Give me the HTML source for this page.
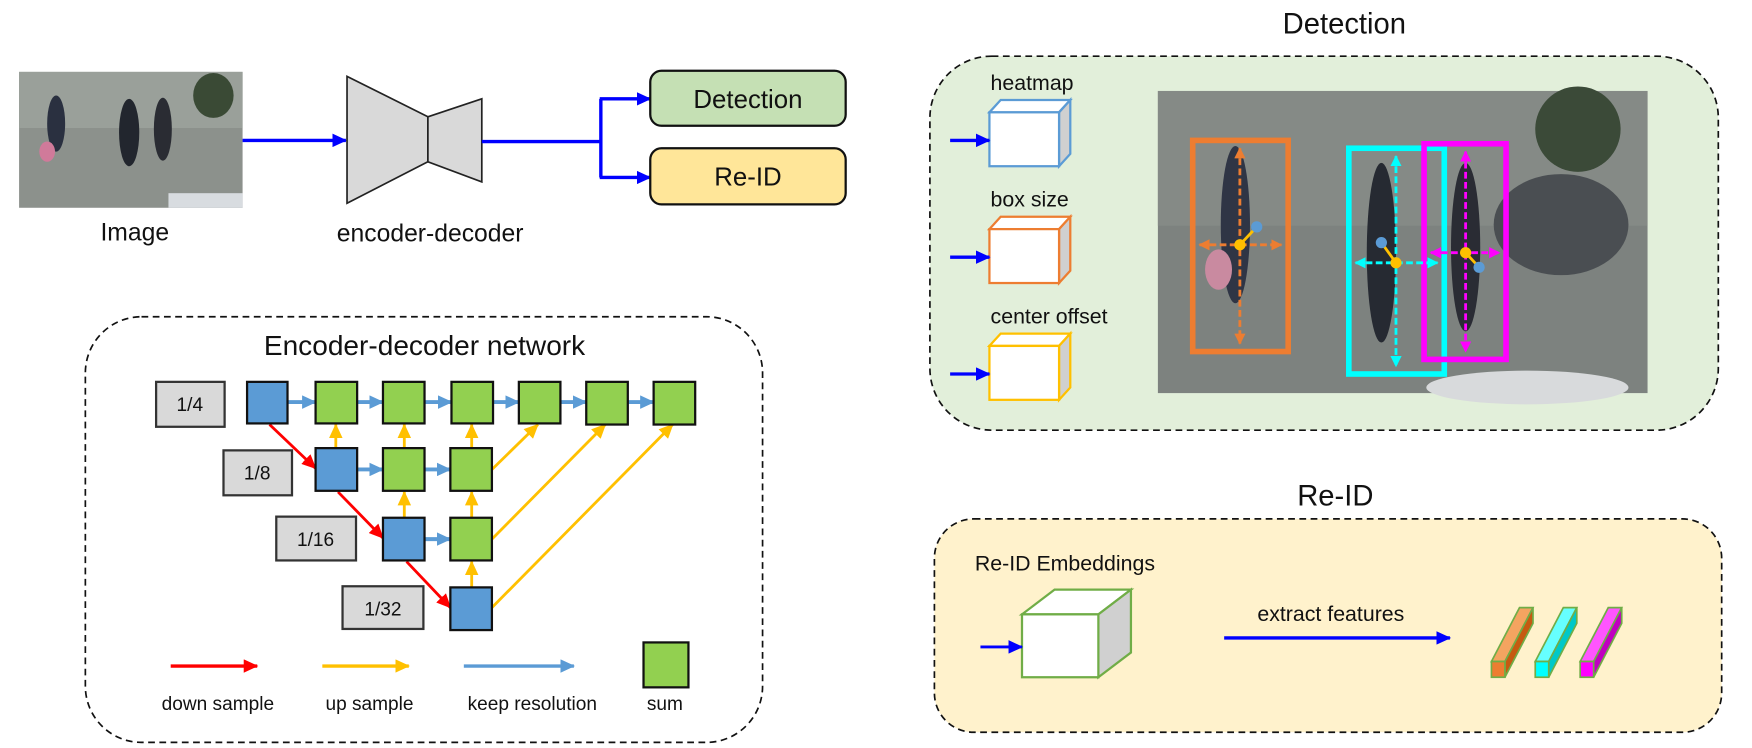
<!DOCTYPE html>
<html><head><meta charset="utf-8"><style>
html,body{margin:0;padding:0;background:#fff;width:1752px;height:748px;overflow:hidden}
svg{display:block}
text{font-family:"Liberation Sans",sans-serif;fill:#111}
</style></head><body>
<svg width="1752" height="748" viewBox="0 0 1560 666" preserveAspectRatio="none" xmlns="http://www.w3.org/2000/svg">
<defs>
<marker id="ab" markerWidth="13" markerHeight="12" refX="12" refY="6" orient="auto" markerUnits="userSpaceOnUse"><path d="M0,0 L13,6 L0,12z" fill="#0000ff"/></marker>
<marker id="ar" markerWidth="13" markerHeight="12" refX="12" refY="6" orient="auto" markerUnits="userSpaceOnUse"><path d="M0,0 L13,6 L0,12z" fill="#ff0000"/></marker>
<marker id="ay" markerWidth="13" markerHeight="12" refX="12" refY="6" orient="auto" markerUnits="userSpaceOnUse"><path d="M0,0 L13,6 L0,12z" fill="#ffc000"/></marker>
<marker id="al" markerWidth="13" markerHeight="12" refX="12" refY="6" orient="auto" markerUnits="userSpaceOnUse"><path d="M0,0 L13,6 L0,12z" fill="#5b9bd5"/></marker>
<marker id="mo" markerWidth="10" markerHeight="10" refX="9" refY="5" orient="auto-start-reverse" markerUnits="userSpaceOnUse"><path d="M0,0 L10,5 L0,10z" fill="#ed7d31"/></marker>
<marker id="mc" markerWidth="10" markerHeight="10" refX="9" refY="5" orient="auto-start-reverse" markerUnits="userSpaceOnUse"><path d="M0,0 L10,5 L0,10z" fill="#00ffff"/></marker>
<marker id="mm" markerWidth="10" markerHeight="10" refX="9" refY="5" orient="auto-start-reverse" markerUnits="userSpaceOnUse"><path d="M0,0 L10,5 L0,10z" fill="#ff00ff"/></marker>
</defs>

<rect x="17" y="64" width="199" height="121" fill="#8c918c"/>
<rect x="17" y="64" width="199" height="50" fill="#9aa09a"/>
<ellipse cx="50" cy="110" rx="8" ry="25" fill="#2a3040"/>
<ellipse cx="42" cy="135" rx="7" ry="9" fill="#d07a9a"/>
<ellipse cx="115" cy="118" rx="9" ry="30" fill="#22262e"/>
<ellipse cx="145" cy="115" rx="8" ry="28" fill="#2a2c33"/>
<ellipse cx="190" cy="85" rx="18" ry="20" fill="#3a4a35"/>
<rect x="150" y="172" width="66" height="13" fill="#d8dce0"/>
<text x="120" y="214" font-size="22" text-anchor="middle">Image</text>
<line x1="216" y1="125" x2="308" y2="125" stroke="#0000ff" stroke-width="3" marker-end="url(#ab)"/>
<polygon points="309,68 381,104 381,144 309,181" fill="#d9d9d9" stroke="#222" stroke-width="1.5"/>
<polygon points="381,104 429,88 429,162 381,144" fill="#d9d9d9" stroke="#222" stroke-width="1.5"/>
<text x="383" y="215" font-size="22" text-anchor="middle">encoder-decoder</text>
<polyline points="429,126 535,126" fill="none" stroke="#0000ff" stroke-width="3"/>
<polyline points="535,88 535,158" fill="none" stroke="#0000ff" stroke-width="3"/>
<line x1="534" y1="88" x2="579" y2="88" stroke="#0000ff" stroke-width="3" marker-end="url(#ab)"/>
<line x1="534" y1="158" x2="579" y2="158" stroke="#0000ff" stroke-width="3" marker-end="url(#ab)"/>
<rect x="579" y="63" width="174" height="49" rx="10" fill="#c5e0b4" stroke="#111" stroke-width="2"/>
<text x="666" y="96" font-size="23" text-anchor="middle">Detection</text>
<rect x="579" y="132" width="174" height="50" rx="10" fill="#ffe699" stroke="#111" stroke-width="2"/>
<text x="666" y="165" font-size="23" text-anchor="middle">Re-ID</text>

<rect x="76" y="282" width="603" height="379" rx="50" fill="none" stroke="#111" stroke-width="1.5" stroke-dasharray="6,4"/>
<text x="378" y="316" font-size="25" text-anchor="middle">Encoder-decoder network</text>
<g stroke="#333" stroke-width="2" fill="#d9d9d9">
<rect x="139" y="340" width="61" height="40"/><rect x="199" y="401" width="61" height="40"/>
<rect x="246" y="460" width="71" height="39"/><rect x="305" y="522" width="72" height="38"/>
</g>
<g font-size="17" text-anchor="middle">
<text x="169" y="366">1/4</text><text x="229" y="427">1/8</text><text x="281" y="486">1/16</text><text x="341" y="548">1/32</text>
</g>
<g stroke="#5b9bd5" stroke-width="3.5">
<line x1="256" y1="358" x2="281" y2="358" marker-end="url(#al)"/>
<line x1="318" y1="358" x2="341" y2="358" marker-end="url(#al)"/>
<line x1="378" y1="358" x2="402" y2="358" marker-end="url(#al)"/>
<line x1="439" y1="358" x2="462" y2="358" marker-end="url(#al)"/>
<line x1="499" y1="358" x2="522" y2="358" marker-end="url(#al)"/>
<line x1="559" y1="358" x2="582" y2="358" marker-end="url(#al)"/>
<line x1="318" y1="418" x2="341" y2="418" marker-end="url(#al)"/>
<line x1="378" y1="418" x2="401" y2="418" marker-end="url(#al)"/>
<line x1="378" y1="480" x2="401" y2="480" marker-end="url(#al)"/>
</g>
<g stroke="#ffc000" stroke-width="2.5">
<line x1="299" y1="399" x2="299" y2="378" marker-end="url(#ay)"/>
<line x1="360" y1="399" x2="360" y2="378" marker-end="url(#ay)"/>
<line x1="420" y1="399" x2="420" y2="378" marker-end="url(#ay)"/>
<line x1="360" y1="461" x2="360" y2="438" marker-end="url(#ay)"/>
<line x1="420" y1="461" x2="420" y2="438" marker-end="url(#ay)"/>
<line x1="420" y1="523" x2="420" y2="500" marker-end="url(#ay)"/>
<line x1="438" y1="418" x2="479" y2="378" marker-end="url(#ay)"/>
<line x1="438" y1="480" x2="539" y2="378" marker-end="url(#ay)"/>
<line x1="438" y1="541" x2="599" y2="378" marker-end="url(#ay)"/>
</g>
<g stroke="#ff0000" stroke-width="2.5">
<line x1="240" y1="378" x2="281" y2="417" marker-end="url(#ar)"/>
<line x1="301" y1="438" x2="341" y2="479" marker-end="url(#ar)"/>
<line x1="362" y1="500" x2="401" y2="541" marker-end="url(#ar)"/>
</g>
<g stroke="#111" stroke-width="2">
<rect x="220" y="340" width="36" height="37" fill="#5b9bd5"/>
<rect x="281" y="399" width="37" height="38" fill="#5b9bd5"/>
<rect x="341" y="461" width="37" height="38" fill="#5b9bd5"/>
<rect x="401" y="523" width="37" height="38" fill="#5b9bd5"/>
<g fill="#92d050">
<rect x="281" y="340" width="37" height="37"/><rect x="341" y="340" width="37" height="37"/>
<rect x="402" y="340" width="37" height="37"/><rect x="462" y="340" width="37" height="37"/>
<rect x="522" y="340" width="37" height="38"/><rect x="582" y="340" width="37" height="38"/>
<rect x="341" y="399" width="37" height="38"/><rect x="401" y="399" width="37" height="38"/>
<rect x="401" y="461" width="37" height="38"/>
<rect x="573" y="572" width="40" height="40"/>
</g></g>
<line x1="152" y1="593" x2="229" y2="593" stroke="#ff0000" stroke-width="3" marker-end="url(#ar)"/>
<line x1="287" y1="593" x2="364" y2="593" stroke="#ffc000" stroke-width="3" marker-end="url(#ay)"/>
<line x1="413" y1="593" x2="511" y2="593" stroke="#5b9bd5" stroke-width="3" marker-end="url(#al)"/>
<g font-size="17" text-anchor="middle">
<text x="194" y="632">down sample</text><text x="329" y="632">up sample</text>
<text x="474" y="632">keep resolution</text><text x="592" y="632">sum</text>
</g>

<text x="1197" y="30" font-size="26" text-anchor="middle">Detection</text>
<rect x="828" y="50" width="702" height="333" rx="55" fill="#e2efda" stroke="#111" stroke-width="1.5" stroke-dasharray="6,4"/>
<g font-size="19"><text x="882" y="80">heatmap</text><text x="882" y="184">box size</text><text x="882" y="288">center offset</text></g>
<g stroke-width="2">
<polygon points="881,100 891,89 953,89 943,100" fill="#fff" stroke="#5b9bd5"/><polygon points="943,100 953,89 953,137 943,148" fill="#d0d0d0" stroke="#5b9bd5"/><rect x="881" y="100" width="62" height="48" fill="#fff" stroke="#5b9bd5"/>
<polygon points="881,204 891,193 953,193 943,204" fill="#fff" stroke="#ed7d31"/><polygon points="943,204 953,193 953,241 943,252" fill="#d0d0d0" stroke="#ed7d31"/><rect x="881" y="204" width="62" height="48" fill="#fff" stroke="#ed7d31"/>
<polygon points="881,308 891,297 953,297 943,308" fill="#fff" stroke="#ffc000"/><polygon points="943,308 953,297 953,345 943,356" fill="#d0d0d0" stroke="#ffc000"/><rect x="881" y="308" width="62" height="48" fill="#fff" stroke="#ffc000"/>
</g>
<g stroke="#0000ff" stroke-width="3">
<line x1="846" y1="125" x2="881" y2="125" marker-end="url(#ab)"/>
<line x1="846" y1="229" x2="881" y2="229" marker-end="url(#ab)"/>
<line x1="846" y1="333" x2="881" y2="333" marker-end="url(#ab)"/>
</g>
<rect x="1031" y="81" width="436" height="269" fill="#7d827f"/>
<rect x="1031" y="81" width="436" height="120" fill="#858a86"/>
<ellipse cx="1405" cy="115" rx="38" ry="38" fill="#3b4a38"/>
<ellipse cx="1390" cy="200" rx="60" ry="45" fill="#4a4e52"/>
<ellipse cx="1360" cy="345" rx="90" ry="15" fill="#d8dadc"/>
<ellipse cx="1100" cy="200" rx="13" ry="70" fill="#2f3545"/>
<ellipse cx="1230" cy="225" rx="13" ry="80" fill="#262a32"/>
<ellipse cx="1305" cy="220" rx="13" ry="75" fill="#2a2c34"/>
<ellipse cx="1085" cy="240" rx="12" ry="18" fill="#c98aa0"/>
<g fill="none" stroke-width="5">
<rect x="1062" y="125" width="85" height="188" stroke="#ed7d31"/>
<rect x="1201" y="132" width="85" height="201" stroke="#00ffff"/>
<rect x="1268" y="128" width="73" height="192" stroke="#ff00ff"/>
</g>
<g fill="none" stroke-width="2.5" stroke-dasharray="6,3">
<path d="M1104,132V306" stroke="#ed7d31" marker-start="url(#mo)" marker-end="url(#mo)"/>
<path d="M1068,218H1141" stroke="#ed7d31" marker-start="url(#mo)" marker-end="url(#mo)"/>
<path d="M1243,139V326" stroke="#00ffff" marker-start="url(#mc)" marker-end="url(#mc)"/>
<path d="M1207,234H1280" stroke="#00ffff" marker-start="url(#mc)" marker-end="url(#mc)"/>
<path d="M1305,135V313" stroke="#ff00ff" marker-start="url(#mm)" marker-end="url(#mm)"/>
<path d="M1274,225H1335" stroke="#ff00ff" marker-start="url(#mm)" marker-end="url(#mm)"/>
</g>
<g stroke="#ffc000" stroke-width="2.5"><line x1="1104" y1="218" x2="1119" y2="202"/><line x1="1243" y1="234" x2="1230" y2="216"/><line x1="1305" y1="225" x2="1317" y2="238"/></g>
<g fill="#ffc000"><circle cx="1104" cy="218" r="5"/><circle cx="1243" cy="234" r="5"/><circle cx="1305" cy="225" r="5"/></g>
<g fill="#5b9bd5"><circle cx="1119" cy="202" r="5"/><circle cx="1230" cy="216" r="5"/><circle cx="1317" cy="238" r="5"/></g>

<text x="1189" y="450" font-size="26" text-anchor="middle">Re-ID</text>
<rect x="832" y="462" width="701" height="190" rx="35" fill="#fff2cc" stroke="#111" stroke-width="1.5" stroke-dasharray="6,4"/>
<text x="868" y="508" font-size="19">Re-ID Embeddings</text>
<g stroke="#70ad47" stroke-width="2">
<polygon points="910,547 939,525 1007,525 978,547" fill="#fff"/>
<polygon points="978,547 1007,525 1007,581 978,603" fill="#d0d0d0"/>
<rect x="910" y="547" width="68" height="56" fill="#fff"/>
</g>
<line x1="873" y1="576" x2="910" y2="576" stroke="#0000ff" stroke-width="2.5" marker-end="url(#ab)"/>
<text x="1185" y="553" font-size="19" text-anchor="middle">extract features</text>
<line x1="1090" y1="568" x2="1291" y2="568" stroke="#0000ff" stroke-width="3" marker-end="url(#ab)"/>
<g stroke="#70ad47" stroke-width="1.5">
<polygon points="1328,589 1353,541 1365,541 1340,589" fill="#f4a460"/><polygon points="1340,589 1365,541 1365,555 1340,603" fill="#c55a11"/><rect x="1328" y="589" width="12" height="14" fill="#ed7d31"/>
<polygon points="1367,589 1392,541 1404,541 1379,589" fill="#66ffff"/><polygon points="1379,589 1404,541 1404,555 1379,603" fill="#00c8c8"/><rect x="1367" y="589" width="12" height="14" fill="#00ffff"/>
<polygon points="1407,589 1432,541 1444,541 1419,589" fill="#ff55ff"/><polygon points="1419,589 1444,541 1444,555 1419,603" fill="#c000c0"/><rect x="1407" y="589" width="12" height="14" fill="#ff00ff"/>
</g>
</svg>
</body></html>
